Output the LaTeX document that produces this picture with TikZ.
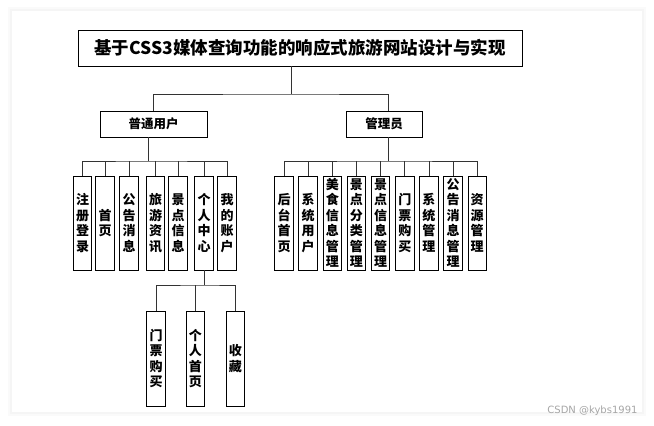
\documentclass[tikz,border=0pt]{standalone}
\usepackage{fontspec}
\newfontfamily\cjk{Noto Sans CJK SC}
\newfontfamily\wm{DejaVu Sans}
\usetikzlibrary{positioning}

\begin{document}
\begin{tikzpicture}[
    x=1pt, y=-1pt,
    every node/.style = {font=\cjk\bfseries},
    top/.style = {
        draw, line width=0.9pt, inner sep=0pt,
        minimum width=444pt, minimum height=36pt,
        font=\cjk\bfseries\fontsize{17.5}{20}\selectfont
    },
    role/.style = {
        draw, line width=0.9pt, inner sep=0pt,
        minimum height=26pt,
        font=\cjk\bfseries\fontsize{12.5}{15}\selectfont
    },
    leaf/.style = {
        draw, line width=0.9pt, inner sep=0pt,
        minimum width=18.5pt, minimum height=94pt,
        align=center,
        font=\cjk\bfseries\fontsize{13}{15.5}\selectfont
    },
    link/.style = {line width=0.8pt, color=black!80}
]
\useasboundingbox (0,0) rectangle (654,426);

%% Panel with soft edge
\fill[black!2] (8,7) rectangle (646,416);
\fill[black!4] (10,9) rectangle (644,414);
\fill[white] (12,11) rectangle (642,412);

%% Top and second level
\node[top]  (title) at (300,48)   {基于CSS3媒体查询功能的响应式旅游网站设计与实现};
\node[role, minimum width=107pt] (user)  at (153.5,124) {普通用户};
\node[role, minimum width=76pt]  (admin) at (384,124)   {管理员};

%% Ordinary user functions
\node[leaf] (reg)     at (82.5,223) {注\\册\\登\\录};
\node[leaf] (home)    at (105,223)  {首\\页};
\node[leaf] (notice)  at (129,223)  {公\\告\\消\\息};
\node[leaf] (news)    at (155.5,223) {旅\\游\\资\\讯};
\node[leaf] (scenic)  at (178,223)  {景\\点\\信\\息};
\node[leaf] (center)  at (204,223)  {个\\人\\中\\心};
\node[leaf] (account) at (227,223)  {我\\的\\账\\户};

%% Admin functions
\node[leaf] (aHome) at (284,223) {后\\台\\首\\页};
\node[leaf, right=4.75pt of aHome]   (aUser)   {系\\统\\用\\户};
\node[leaf, right=4.75pt of aUser]   (aFood)   {美\\食\\信\\息\\管\\理};
\node[leaf, right=4.75pt of aFood]   (aCat)    {景\\点\\分\\类\\管\\理};
\node[leaf, right=4.75pt of aCat]    (aScenic) {景\\点\\信\\息\\管\\理};
\node[leaf, right=4.75pt of aScenic] (aTicket) {门\\票\\购\\买};
\node[leaf, right=4.75pt of aTicket] (aSys)    {系\\统\\管\\理};
\node[leaf, right=4.75pt of aSys]    (aNotice) {公\\告\\消\\息\\管\\理};
\node[leaf, right=4.75pt of aNotice] (aRes)    {资\\源\\管\\理};

%% Personal center functions
\node[leaf, minimum height=95pt] (ticket) at (156,358.5) {门\\票\\购\\买};
\node[leaf, minimum height=95pt, right=20pt of ticket]  (profile) {个\\人\\首\\页};
\node[leaf, minimum height=95pt, right=20.5pt of profile] (fav)   {收\\藏};

%% Connectors -- top level
\coordinate (tbus) at (291,94);
\draw[link] ([xshift=-9pt]title.south) -- (tbus);
\draw[link] (user.north) |- (tbus) -| ([xshift=4pt]admin.north);

%% Connectors -- ordinary user
\coordinate (ubus) at (148,161);
\draw[link] ([xshift=-5.5pt]user.south) -- (ubus);
\draw[link] (reg.north) |- (ubus) -| (account.north);
\draw[link] (home.north)   -- (home.north |- ubus);
\draw[link] (notice.north) -- (notice.north |- ubus);
\draw[link] (news.north)   -- (news.north |- ubus);
\draw[link] (scenic.north) -- (scenic.north |- ubus);
\draw[link] (center.north) -- (center.north |- ubus);

%% Connectors -- admin
\coordinate (abus) at (388,161);
\draw[link] ([xshift=4pt]admin.south) -- (abus);
\draw[link] (aHome.north) |- (abus) -| (aRes.north);
\draw[link] (aUser.north)   -- (aUser.north |- abus);
\draw[link] (aFood.north)   -- (aFood.north |- abus);
\draw[link] (aCat.north)    -- (aCat.north |- abus);
\draw[link] (aScenic.north) -- (aScenic.north |- abus);
\draw[link] (aTicket.north) -- (aTicket.north |- abus);
\draw[link] (aSys.north)    -- (aSys.north |- abus);
\draw[link] (aNotice.north) -- (aNotice.north |- abus);

%% Connectors -- personal center
\coordinate (cbus) at (204,285);
\draw[link] (center.south) -- (cbus);
\draw[link] (ticket.north) |- (cbus) -| (fav.north);
\draw[link] (profile.north) -- (profile.north |- cbus);

%% Watermark
\node[font=\wm\fontsize{10}{12}\selectfont, text=black!35, anchor=east] (mark) at (641,411) {CSDN @kybs1991};

\end{tikzpicture}
\end{document}
